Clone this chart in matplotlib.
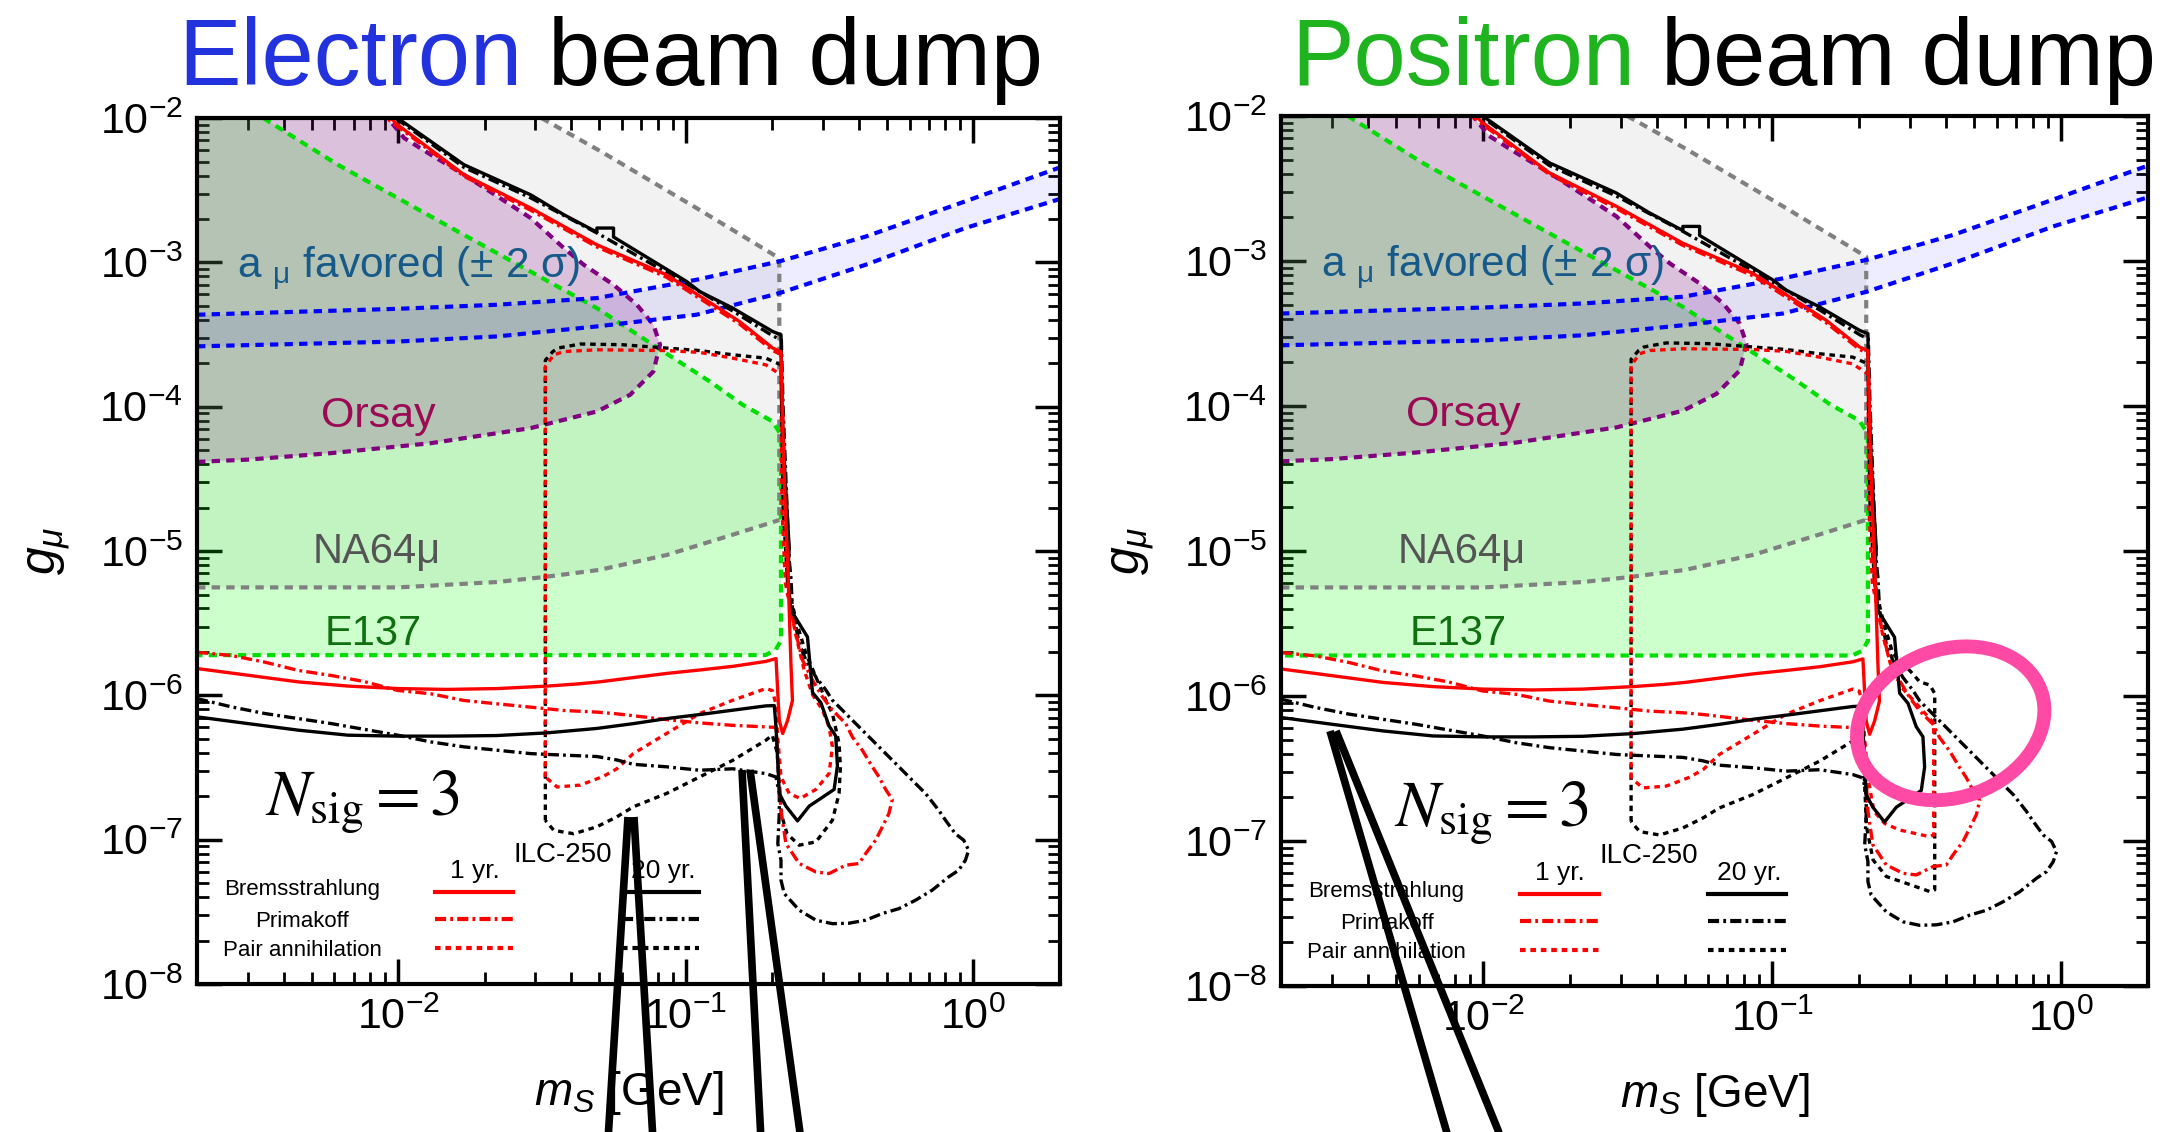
import matplotlib.pyplot as plt
from matplotlib.lines import Line2D
from matplotlib.patches import Ellipse
from matplotlib.ticker import NullFormatter

plt.rcParams['font.family'] = ['Liberation Sans', 'DejaVu Sans']
plt.rcParams['mathtext.fontset'] = 'custom'
plt.rcParams['mathtext.rm'] = 'Liberation Sans'
plt.rcParams['mathtext.it'] = 'Liberation Sans:italic'
plt.rcParams['mathtext.bf'] = 'Liberation Sans:bold'
plt.rcParams['mathtext.sf'] = 'Liberation Sans'
plt.rcParams['lines.scale_dashes'] = False

# ---------------- existing limits ----------------
# NA64mu: lower reach and the upper (short lifetime) edge
na64_lo_m = [2.0e-3, 5.0e-3, 1.0e-2, 2.2e-2, 3.2e-2, 5.0e-2, 8.6e-2, 0.146, 0.2115]
na64_lo_g = [5.6e-6, 5.6e-6, 5.6e-6, 6.1e-6, 6.6e-6, 7.4e-6, 9.4e-6, 1.3e-5, 1.64e-5]
na64_hi_m = [0.0315, 0.0505, 0.109, 0.2115, 0.2115]
na64_hi_g = [1.0e-2, 5.9e-3, 2.38e-3, 1.07e-3, 1.64e-5]

# E137
e137_m = [3.4e-3, 6.17e-3, 0.01695, 0.0491, 0.0834, 0.121, 0.158, 0.2006, 0.2143,
          0.2144, 0.205, 0.189, 2.0e-3]
e137_g = [1.0e-2, 4.75e-3, 1.55e-3, 4.82e-4, 2.42e-4, 1.5e-4, 1.03e-4, 7.9e-5, 6.4e-5,
          2.4e-6, 2.05e-6, 1.9e-6, 1.9e-6]

# Orsay
orsay_m = [2.0e-3, 3.0e-3, 5.85e-3, 0.013, 0.0289, 0.0491, 0.0641, 0.0772, 0.0814, 0.0772,
           0.0676, 0.0561, 0.0442, 0.0377, 0.0289, 0.01695, 0.013, 0.0105, 9.2e-3]
orsay_g = [4.15e-5, 4.3e-5, 4.77e-5, 5.59e-5, 7.11e-5, 9.27e-5, 1.21e-4, 1.755e-4, 2.69e-4, 3.7e-4,
           5.09e-4, 7.0e-4, 9.63e-4, 1.256e-3, 2.03e-3, 4.05e-3, 5.57e-3, 7.27e-3, 1.0e-2]

# (g-2)_mu favoured band
amu_m = [2.0e-3, 0.01, 0.0221, 0.0491, 0.109, 0.2115, 0.4224, 0.938, 2.0]
amu_hi_g = [4.34e-4, 4.77e-4, 5.09e-4, 5.66e-4, 7.58e-4, 1.016e-3, 1.51e-3, 2.65e-3, 4.55e-3]
amu_lo_g = [2.62e-4, 2.83e-4, 3.07e-4, 3.6e-4, 4.34e-4, 6.12e-4, 9.63e-4, 1.73e-3, 2.75e-3]

# ---------------- ILC-250 beam dump reach ----------------
brem1_m = [2.0e-3, 3.0e-3, 4.5e-3, 6.7e-3, 1.0e-2, 1.48e-2, 2.21e-2, 3.3e-2, 4.2e-2, 5.0e-2,
           6.6e-2, 8.6e-2, 0.112, 0.146, 0.19, 0.206, 0.209, 0.2115, 0.2173, 0.226, 0.235,
           0.232, 0.229, 0.226, 0.222, 0.218, 0.2144, 0.2006, 0.1537, 0.0857, 0.0491, 0.0289,
           0.01695, 0.00996, 0.0092]
brem1_g = [1.535e-6, 1.38e-6, 1.24e-6, 1.16e-6, 1.115e-6, 1.10e-6, 1.115e-6, 1.16e-6, 1.2e-6, 1.24e-6,
           1.33e-6, 1.42e-6, 1.5e-6, 1.59e-6, 1.72e-6, 1.8e-6, 1.03e-6, 6.7e-7, 5.44e-7, 6.7e-7, 9.2e-7,
           1.71e-6, 3.9e-6, 8.65e-6, 2.0e-5, 6.0e-5, 2.4e-4, 2.55e-4, 3.9e-4, 8.21e-4, 1.325e-3, 2.38e-3,
           4.05e-3, 8.99e-3, 1.05e-2]

brem20_m = [2.0e-3, 3.0e-3, 4.5e-3, 6.7e-3, 1.0e-2, 1.48e-2, 2.21e-2, 3.3e-2, 4.9e-2, 6.6e-2,
            8.6e-2, 0.112, 0.146, 0.19, 0.2032, 0.206, 0.2115, 0.223, 0.2447, 0.2688, 0.291,
            0.328, 0.3368, 0.3323, 0.315, 0.295, 0.276, 0.265, 0.232, 0.226, 0.229, 0.222,
            0.216, 0.2144, 0.2006, 0.1458, 0.1117, 0.1007, 0.0561, 0.0561, 0.0491, 0.0491,
            0.0377, 0.0289, 0.01695, 0.00996, 0.0097]
brem20_g = [7.1e-7, 6.38e-7, 5.74e-7, 5.3e-7, 5.22e-7, 5.22e-7, 5.27e-7, 5.5e-7, 5.9e-7, 6.38e-7,
            6.91e-7, 7.37e-7, 7.9e-7, 8.46e-7, 8.5e-7, 6.05e-7, 2.09e-7, 1.71e-7, 1.35e-7, 1.71e-7, 1.9e-7,
            2.23e-7, 3.24e-7, 5.23e-7, 6.14e-7, 8.9e-7, 1.045e-6, 2.54e-6, 3.9e-6, 6.6e-6, 1.05e-5, 3.0e-5,
            1.0e-4, 3.15e-4, 3.32e-4, 4.82e-4, 6.29e-4, 7.38e-4, 1.5e-3, 1.73e-3, 1.73e-3, 1.62e-3,
            2.14e-3, 2.94e-3, 4.75e-3, 1.0e-2, 1.05e-2]

prim1_m = [2.0e-3, 2.63e-3, 3.44e-3, 4.49e-3, 5.85e-3, 7.6e-3, 9.96e-3, 0.013, 0.01695, 0.0221,
           0.0289, 0.0377, 0.0491, 0.0576, 0.0857, 0.1117, 0.1458, 0.19, 0.206, 0.2115, 0.2144,
           0.223, 0.248, 0.2835, 0.315, 0.36, 0.4003, 0.4223, 0.4573, 0.4826, 0.5087, 0.5225,
           0.4955, 0.47, 0.4455, 0.411, 0.3797, 0.36, 0.3236, 0.2988, 0.276, 0.2548, 0.2416,
           0.232, 0.226, 0.222, 0.217, 0.2144, 0.2006, 0.1537, 0.0857, 0.0491, 0.0289, 0.01695,
           0.0091, 0.0089]
prim1_g = [1.99e-6, 1.89e-6, 1.70e-6, 1.49e-6, 1.374e-6, 1.249e-6, 1.082e-6, 1.026e-6, 9.22e-7, 8.74e-7,
           8.29e-7, 7.86e-7, 7.66e-7, 7.45e-7, 6.8e-7, 6.45e-7, 6.2e-7, 6.05e-7, 6.0e-7, 2.58e-7, 1.6e-7,
           9.4e-8, 6.84e-8, 5.98e-8, 5.83e-8, 6.66e-8, 6.84e-8, 8.02e-8, 9.92e-8, 1.227e-7, 1.52e-7, 1.9e-7,
           2.23e-7, 2.72e-7, 3.2e-7, 4.17e-7, 5.15e-7, 6.38e-7, 7.9e-7, 9.77e-7, 1.274e-6, 1.75e-6, 2.68e-6,
           3.9e-6, 6.63e-6, 2.0e-5, 1.0e-4, 2.3e-4, 2.45e-4, 3.75e-4, 7.9e-4, 1.28e-3, 2.3e-3, 3.95e-3,
           1.0e-2, 1.05e-2]

prim20_m = [2.0e-3, 2.63e-3, 3.44e-3, 4.49e-3, 5.85e-3, 9.96e-3, 0.013, 0.01695, 0.0221, 0.0289,
            0.033, 0.0491, 0.0576, 0.0657, 0.0857, 0.1117, 0.1458, 0.19, 0.206, 0.2115, 0.2115,
            0.209, 0.2144, 0.2144, 0.22, 0.248, 0.2835, 0.3236, 0.3697, 0.4223, 0.4826, 0.551,
            0.6295, 0.719, 0.821, 0.889, 0.938, 0.963, 0.926, 0.866, 0.80, 0.758, 0.682, 0.6295,
            0.551, 0.4826, 0.4223, 0.3697, 0.3236, 0.307, 0.2835, 0.2618, 0.248, 0.2416, 0.2352,
            0.232, 0.229, 0.225, 0.218, 0.215, 0.2006, 0.1458, 0.1007, 0.0491, 0.0289, 0.01695,
            0.0098, 0.0096]
prim20_g = [9.5e-7, 8.33e-7, 7.49e-7, 6.91e-7, 6.38e-7, 5.3e-7, 4.76e-7, 4.4e-7, 4.17e-7, 3.95e-7,
            3.9e-7, 3.77e-7, 3.57e-7, 3.33e-7, 3.2e-7, 3.03e-7, 3.1e-7, 2.87e-7, 2.72e-7, 2.09e-7, 1.52e-7,
            9.4e-8, 7.2e-8, 5.24e-8, 4.24e-8, 3.25e-8, 2.77e-8, 2.62e-8, 2.64e-8, 2.77e-8, 3.08e-8, 3.33e-8,
            3.81e-8, 4.47e-8, 5.53e-8, 6.14e-8, 7.2e-8, 8.46e-8, 9.92e-8, 1.10e-7, 1.365e-7, 1.6e-7, 2.09e-7, 2.45e-7,
            3.2e-7, 4.17e-7, 5.44e-7, 7.1e-7, 9.26e-7, 1.09e-6, 1.34e-6, 1.75e-6, 2.29e-6, 2.99e-6, 3.9e-6,
            6.63e-6, 8.65e-6, 2.0e-5, 1.0e-4, 2.9e-4, 3.1e-4, 4.6e-4, 7.1e-4, 1.6e-3, 2.8e-3, 4.55e-3,
            1.0e-2, 1.05e-2]

# pair annihilation, shared part left of the kinematic edge
pair20_lo_m = [0.0325, 0.0325, 0.0345, 0.036, 0.043, 0.06, 0.0857, 0.1117, 0.1458, 0.19, 0.2144, 0.218, 0.226]
pair20_lo_g = [1.36e-7, 2.1e-4, 2.41e-4, 2.55e-4, 2.72e-4, 2.69e-4, 2.55e-4, 2.45e-4, 2.29e-4, 2.17e-4, 1.95e-4, 2.0e-5, 6.0e-6]
pair20_tail_m = [0.2, 0.19, 0.1458, 0.1117, 0.0857, 0.0657, 0.0576, 0.0491, 0.0408, 0.0348, 0.0325]
pair20_tail_g = [5.3e-7, 4.89e-7, 3.55e-7, 2.72e-7, 2.09e-7, 1.69e-7, 1.44e-7, 1.23e-7, 1.10e-7, 1.16e-7, 1.36e-7]
# electron beam: closed loop above m_S ~ 0.2 GeV
pair20_e_m = [0.2416, 0.2618, 0.2835, 0.307, 0.3236, 0.3413, 0.345, 0.3413, 0.3236, 0.2835, 0.248, 0.225, 0.215, 0.211, 0.208]
pair20_e_g = [3.32e-6, 1.95e-6, 1.34e-6, 9.26e-7, 7.48e-7, 4.64e-7, 3.2e-7, 2.09e-7, 1.365e-7, 9.66e-8, 9.16e-8, 1.1e-7, 1.5e-7, 2.5e-7, 4.0e-7]
# positron beam: resonant edge at m_S ~ 0.36 GeV
pair20_p_m = [0.2416, 0.2618, 0.299, 0.324, 0.351, 0.365, 0.365, 0.3508, 0.2913, 0.2484, 0.2234, 0.2119, 0.208]
pair20_p_g = [3.32e-6, 1.95e-6, 1.5e-6, 1.25e-6, 1.19e-6, 1.04e-6, 4.6e-8, 4.48e-8, 5.1e-8, 5.68e-8, 7.4e-8, 1.256e-7, 3.0e-7]

pair1_lo_m = [0.0325, 0.0325, 0.0348, 0.0377, 0.0491, 0.0857, 0.1117, 0.1458, 0.19, 0.2144, 0.216, 0.222, 0.232, 0.2416]
pair1_lo_g = [2.72e-7, 1.9e-4, 2.29e-4, 2.41e-4, 2.48e-4, 2.45e-4, 2.38e-4, 2.17e-4, 1.95e-4, 1.66e-4, 2.0e-5, 6.0e-6, 3.9e-6, 2.6e-6]
pair1_tail_m = [0.2144, 0.209, 0.205, 0.2, 0.19, 0.1458, 0.1117, 0.0857, 0.0657, 0.0576, 0.0518, 0.043, 0.0357, 0.0325]
pair1_tail_g = [2.72e-7, 5.0e-7, 9.0e-7, 1.08e-6, 1.115e-6, 9.26e-7, 7.48e-7, 5.44e-7, 3.95e-7, 3.1e-7, 2.75e-7, 2.39e-7, 2.32e-7, 2.72e-7]
pair1_e_m = [0.258, 0.276, 0.299, 0.315, 0.3236, 0.315, 0.2835, 0.25, 0.229]
pair1_e_g = [1.5e-6, 1.01e-6, 7.9e-7, 6.05e-7, 4.4e-7, 2.87e-7, 2.23e-7, 1.93e-7, 2.09e-7]
pair1_p_m = [0.258, 0.28, 0.33, 0.362, 0.362, 0.351, 0.276, 0.245, 0.225]
pair1_p_g = [1.6e-6, 1.15e-6, 8.0e-7, 6.5e-7, 1.1e-7, 1.07e-7, 1.19e-7, 1.32e-7, 1.6e-7]

RED = '#ff0000'
DASHDOT = (8, 3, 2, 3)
DOTTED = (4, 3.5)
BOUND = (6, 4.5)
LW = 2.4


def draw_panel(ax, positron):
    ax.set_xscale('log')
    ax.set_yscale('log')
    ax.set_xlim(2e-3, 2)
    ax.set_ylim(1e-8, 1e-2)

    # shaded exclusions
    ax.fill(na64_lo_m + na64_hi_m[::-1] + [2.0e-3], na64_lo_g + na64_hi_g[::-1] + [1.0e-2],
            color='#f2f2f2', lw=0, zorder=1)
    ax.fill(e137_m + [2.0e-3], e137_g + [1.0e-2], color=(0, 1, 0), alpha=0.2, lw=0, zorder=2)
    ax.fill(orsay_m + [2.0e-3], orsay_g + [1.0e-2], color='purple', alpha=0.2, lw=0, zorder=3)
    ax.fill_between(amu_m, amu_lo_g, amu_hi_g, color='blue', alpha=0.07, lw=0, zorder=4)

    ax.plot(na64_lo_m, na64_lo_g, color='#808080', lw=3, dashes=BOUND, zorder=5)
    ax.plot(na64_hi_m, na64_hi_g, color='#808080', lw=3, dashes=BOUND, zorder=5)
    ax.plot(e137_m, e137_g, color='#00dd00', lw=3, dashes=BOUND, zorder=5)
    ax.plot(orsay_m, orsay_g, color='#800080', lw=3, dashes=BOUND, zorder=5)
    ax.plot(amu_m, amu_hi_g, color='#0000ff', lw=3, dashes=BOUND, zorder=5)
    ax.plot(amu_m, amu_lo_g, color='#0000ff', lw=3, dashes=BOUND, zorder=5)

    # projected reach
    if positron:
        p20_m = pair20_lo_m + pair20_p_m + pair20_tail_m
        p20_g = pair20_lo_g + pair20_p_g + pair20_tail_g
        p1_m = pair1_lo_m + pair1_p_m + pair1_tail_m
        p1_g = pair1_lo_g + pair1_p_g + pair1_tail_g
    else:
        p20_m = pair20_lo_m + pair20_e_m + pair20_tail_m
        p20_g = pair20_lo_g + pair20_e_g + pair20_tail_g
        p1_m = pair1_lo_m + pair1_e_m + pair1_tail_m
        p1_g = pair1_lo_g + pair1_e_g + pair1_tail_g

    ax.plot(p20_m, p20_g, color='k', lw=LW, dashes=DOTTED, zorder=6)
    ax.plot(p1_m, p1_g, color=RED, lw=LW, dashes=DOTTED, zorder=6)
    ax.plot(prim20_m, prim20_g, color='k', lw=LW, dashes=DASHDOT, zorder=6)
    ax.plot(prim1_m, prim1_g, color=RED, lw=LW, dashes=DASHDOT, zorder=6)
    ax.plot(brem20_m, brem20_g, color='k', lw=LW, zorder=7)
    ax.plot(brem1_m, brem1_g, color=RED, lw=LW, zorder=7)

    # labels of the bounds
    tr = ax.transAxes
    ax.text(0.0463, 0.8152, r'a $_{\mathrm{μ}}$ favored (± 2 σ)', transform=tr, fontsize=30.5,
            color='#175a8a', va='baseline', zorder=8)
    ax.text(0.2097, 0.6432, 'Orsay', transform=tr, fontsize=31, color='#9b0a55',
            ha='center', va='baseline', zorder=8)
    ax.text(0.2086, 0.4861, 'NA64μ', transform=tr, fontsize=30, color='#555555',
            ha='center', va='baseline', zorder=8)
    ax.text(0.2045, 0.3915, 'E137', transform=tr, fontsize=30, color='#107010',
            ha='center', va='baseline', zorder=8)
    ax.text(0.424, 0.141, 'ILC-250', transform=tr, fontsize=20, ha='center', va='baseline', zorder=8)
    nx, ny = (0.130, 0.183) if positron else (0.0788, 0.195)
    ax.text(nx, ny, r'$N_{\rm sig} = 3$', transform=tr, fontsize=47, math_fontfamily='stix',
            va='baseline', zorder=8)

    # key
    for y_txt, y_ln, name, dash in [(0.1028, 0.1062, 'Bremsstrahlung', None),
                                    (0.0658, 0.0751, 'Primakoff', DASHDOT),
                                    (0.0323, 0.0416, 'Pair annihilation', DOTTED)]:
        ax.text(0.1217, y_txt, name, transform=tr, fontsize=16, ha='center', va='baseline', zorder=8)
        for x0, x1, c in [(0.2758, 0.3662, RED), (0.4925, 0.5817, 'k')]:
            kw = {} if dash is None else {'dashes': dash}
            ax.plot([x0, x1], [y_ln, y_ln], transform=tr, color=c, lw=3, zorder=8, **kw)
    ax.text(0.322, 0.122, '1 yr.', transform=tr, fontsize=19, ha='center', va='baseline', zorder=8)
    ax.text(0.540, 0.122, '20 yr.', transform=tr, fontsize=19, ha='center', va='baseline', zorder=8)

    ax.tick_params(which='both', direction='in', top=True, right=True, labelsize=31, pad=10)
    ax.tick_params(which='major', length=18, width=2.5)
    ax.tick_params(which='minor', length=8.5, width=2)
    ax.xaxis.set_minor_formatter(NullFormatter())
    ax.yaxis.set_minor_formatter(NullFormatter())
    for s in ax.spines.values():
        s.set_linewidth(3)
        s.set_zorder(9)
    ax.set_xlabel(r'$m_S$ [GeV]', fontsize=33, labelpad=22)
    ax.set_ylabel(r'$g_\mu$', fontsize=36, labelpad=20)


fig = plt.figure(figsize=(21.68, 11.32), dpi=100)
ax_e = fig.add_axes([0.0909, 0.1307, 0.398, 0.765])
ax_p = fig.add_axes([0.5909, 0.1290, 0.400, 0.7686])
draw_panel(ax_e, positron=False)
draw_panel(ax_p, positron=True)

# titles: coloured beam word, then "beam dump" after one word space
title_y = 1 - 85 / 1132
for x_word, x_rest, word, col in [(178, 548, 'Electron', '#2233dd'),
                                  (1291, 1661, 'Positron', '#1fb41f')]:
    fig.text(x_word / 2168, title_y, word, color=col, fontsize=67.5, va='baseline')
    fig.text(x_rest / 2168, title_y, 'beam dump', color='k', fontsize=67.5, va='baseline')

# pointer strokes (pixel positions on the canvas)
pointers = [((628, 817), (608, 1140)), ((634, 817), (653, 1140)),
            ((742, 770), (761, 1140)), ((750, 770), (801, 1140)),
            ((1330, 731), (1449, 1140)), ((1336, 731), (1502, 1140))]
for (xa, ya), (xb, yb) in pointers:
    fig.add_artist(Line2D([xa / 100, xb / 100], [(1132 - ya) / 100, (1132 - yb) / 100],
                          transform=fig.dpi_scale_trans, color='k', lw=5.5,
                          solid_capstyle='butt', zorder=20))

fig.add_artist(Ellipse((19.507, 4.087), 1.92, 1.48, angle=20, transform=fig.dpi_scale_trans,
                       fill=False, edgecolor='#ff4aa5', lw=10, zorder=21))

fig.savefig('out.png', dpi=100)
